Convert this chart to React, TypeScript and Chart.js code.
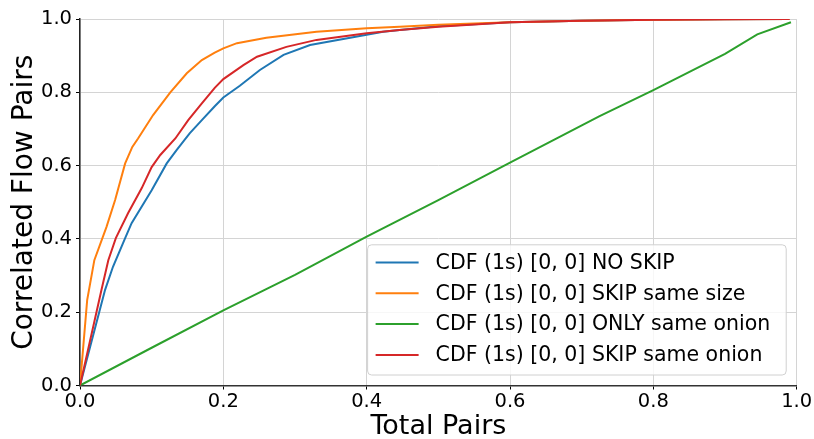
import React, { useEffect, useRef } from 'react';
import { Chart, registerables } from 'chart.js';

Chart.register(...registerables);

const seriesLabels = [
  'CDF (1s) [0, 0] NO SKIP',
  'CDF (1s) [0, 0] SKIP same size',
  'CDF (1s) [0, 0] ONLY same onion',
  'CDF (1s) [0, 0] SKIP same onion',
];
const seriesColors = ['#1f77b4', '#ff7f0e', '#2ca02c', '#d62728'];

const noSkipX = [0, 0.035, 0.046, 0.063, 0.072, 0.1, 0.121, 0.135, 0.153, 0.17, 0.188, 0.2, 0.223, 0.251, 0.284, 0.321, 0.377, 0.423, 0.446, 0.5, 0.6, 0.7, 0.8, 0.9, 0.99];
const noSkipY = [0, 0.261, 0.324, 0.402, 0.443, 0.533, 0.606, 0.643, 0.688, 0.724, 0.762, 0.786, 0.818, 0.861, 0.902, 0.929, 0.949, 0.965, 0.97, 0.98, 0.991, 0.995, 0.998, 0.999, 1.0];

const skipSizeX = [0, 0.01, 0.02, 0.037, 0.049, 0.063, 0.073, 0.081, 0.102, 0.126, 0.149, 0.17, 0.188, 0.2, 0.219, 0.26, 0.33, 0.4, 0.446, 0.5, 0.6, 0.7, 0.8, 0.9, 0.99];
const skipSizeY = [0, 0.233, 0.342, 0.433, 0.506, 0.606, 0.651, 0.674, 0.738, 0.8, 0.852, 0.888, 0.908, 0.92, 0.934, 0.949, 0.965, 0.975, 0.979, 0.984, 0.991, 0.995, 0.998, 0.999, 1.0];

const onlyOnionX = [0, 0.1, 0.2, 0.3, 0.4, 0.5, 0.6, 0.725, 0.8, 0.9, 0.945, 0.992];
const onlyOnionY = [0, 0.103, 0.205, 0.302, 0.406, 0.506, 0.608, 0.735, 0.806, 0.905, 0.958, 0.991];

const skipOnionX = [0, 0.03, 0.0395, 0.05, 0.067, 0.086, 0.1, 0.112, 0.133, 0.151, 0.17, 0.188, 0.2, 0.228, 0.247, 0.288, 0.33, 0.4, 0.446, 0.5, 0.6, 0.7, 0.8, 0.9, 0.99];
const skipOnionY = [0, 0.261, 0.342, 0.402, 0.47, 0.538, 0.596, 0.629, 0.674, 0.724, 0.77, 0.812, 0.836, 0.874, 0.897, 0.924, 0.943, 0.961, 0.97, 0.979, 0.991, 0.995, 0.998, 0.999, 1.0];

const xTicks = [0, 0.2, 0.4, 0.6, 0.8, 1.0];
const yTicks = [0, 0.2, 0.4, 0.6, 0.8, 1.0];

const xTitle = 'Total Pairs';
const yTitle = 'Correlated Flow Pairs';

const FONT = '"DejaVu Sans", "Liberation Sans", sans-serif';

function toPoints(xs: number[], ys: number[]) {
  return xs.map((x, i) => ({ x, y: ys[i] }));
}

export default function App() {
  const ref = useRef<HTMLCanvasElement>(null);

  useEffect(() => {
    const canvas = ref.current;
    if (!canvas) return;

    const legendPlugin = {
      id: 'insideLegend',
      afterDraw(chart: any) {
        const { ctx, chartArea } = chart;
        const ds = chart.data.datasets;
        ctx.save();
        ctx.font = `20.5px ${FONT}`;
        let maxW = 0;
        ds.forEach((d: any) => {
          maxW = Math.max(maxW, ctx.measureText(d.label).width);
        });
        const rowH = 30.8;
        const right = chartArea.right - 10.5;
        const bottom = chartArea.bottom - 10.5;
        const h = rowH * ds.length + 7;
        const w = 8 + 43 + 17 + maxW + 16;
        const left = right - w;
        const top = bottom - h;
        ctx.beginPath();
        if ((ctx as any).roundRect) {
          (ctx as any).roundRect(left, top, w, h, 4);
        } else {
          ctx.rect(left, top, w, h);
        }
        ctx.fillStyle = 'rgba(255,255,255,0.8)';
        ctx.fill();
        ctx.strokeStyle = '#d0d0d0';
        ctx.lineWidth = 1;
        ctx.stroke();
        ds.forEach((d: any, i: number) => {
          const y = top + 17.7 + i * rowH;
          ctx.beginPath();
          ctx.moveTo(left + 8, y);
          ctx.lineTo(left + 51, y);
          ctx.strokeStyle = d.borderColor;
          ctx.lineWidth = 2;
          ctx.stroke();
          ctx.fillStyle = '#000';
          ctx.textAlign = 'left';
          ctx.textBaseline = 'middle';
          ctx.fillText(d.label, left + 68, y + 1);
        });
        ctx.restore();
      },
    };

    const series = [
      [noSkipX, noSkipY],
      [skipSizeX, skipSizeY],
      [onlyOnionX, onlyOnionY],
      [skipOnionX, skipOnionY],
    ];

    const chart = new Chart(canvas, {
      type: 'line',
      data: {
        datasets: series.map(([xs, ys], i) => ({
          label: seriesLabels[i],
          data: toPoints(xs, ys),
          borderColor: seriesColors[i],
          backgroundColor: seriesColors[i],
          borderWidth: 2,
          pointRadius: 0,
          fill: false,
          tension: 0,
          order: 3 - i,
        })),
      },
      options: {
        responsive: false,
        animation: false,
        layout: { padding: { left: 0, top: 19, right: 17.3, bottom: 0 } },
        plugins: {
          legend: { display: false },
          tooltip: { enabled: false },
        },
        scales: {
          x: {
            type: 'linear',
            min: 0,
            max: 1,
            afterBuildTicks: (scale: any) => {
              scale.ticks = xTicks.map((v) => ({ value: v }));
            },
            afterFit: (scale: any) => {
              scale.height = 53.5;
            },
            ticks: {
              callback: (v: any) => Number(v).toFixed(1),
              font: { family: FONT, size: 19.5 },
              color: '#000',
              padding: 1,
              maxRotation: 0,
              autoSkip: false,
            },
            grid: {
              color: '#d4d4d4',
              lineWidth: 1,
              tickColor: '#000',
              tickLength: 4,
            },
            border: { display: true, color: '#333', width: 1.5 },
            title: {
              display: true,
              text: xTitle,
              font: { family: FONT, size: 27, lineHeight: 1 },
              color: '#000',
              padding: { top: 0, bottom: -1 },
            },
          },
          y: {
            type: 'linear',
            min: 0,
            max: 1,
            afterBuildTicks: (scale: any) => {
              scale.ticks = yTicks.map((v) => ({ value: v }));
            },
            afterFit: (scale: any) => {
              scale.width = 80;
            },
            ticks: {
              callback: (v: any) => Number(v).toFixed(1),
              font: { family: FONT, size: 19.5 },
              color: '#000',
              padding: 4,
              autoSkip: false,
            },
            grid: {
              color: '#d4d4d4',
              lineWidth: 1,
              tickColor: '#000',
              tickLength: 4,
            },
            border: { display: true, color: '#222', width: 1.5 },
            title: {
              display: true,
              text: yTitle,
              font: { family: FONT, size: 28, lineHeight: 1.2 },
              color: '#000',
              padding: { top: 8, bottom: 0 },
            },
          },
        },
      },
      plugins: [legendPlugin],
    } as any);

    return () => {
      chart.destroy();
    };
  }, []);

  return (
    <div style={{ position: 'fixed', left: 0, top: 0, width: 814, height: 439, background: '#fff' }}>
      <canvas ref={ref} width={814} height={439} style={{ display: 'block', width: 814, height: 439 }} />
    </div>
  );
}
